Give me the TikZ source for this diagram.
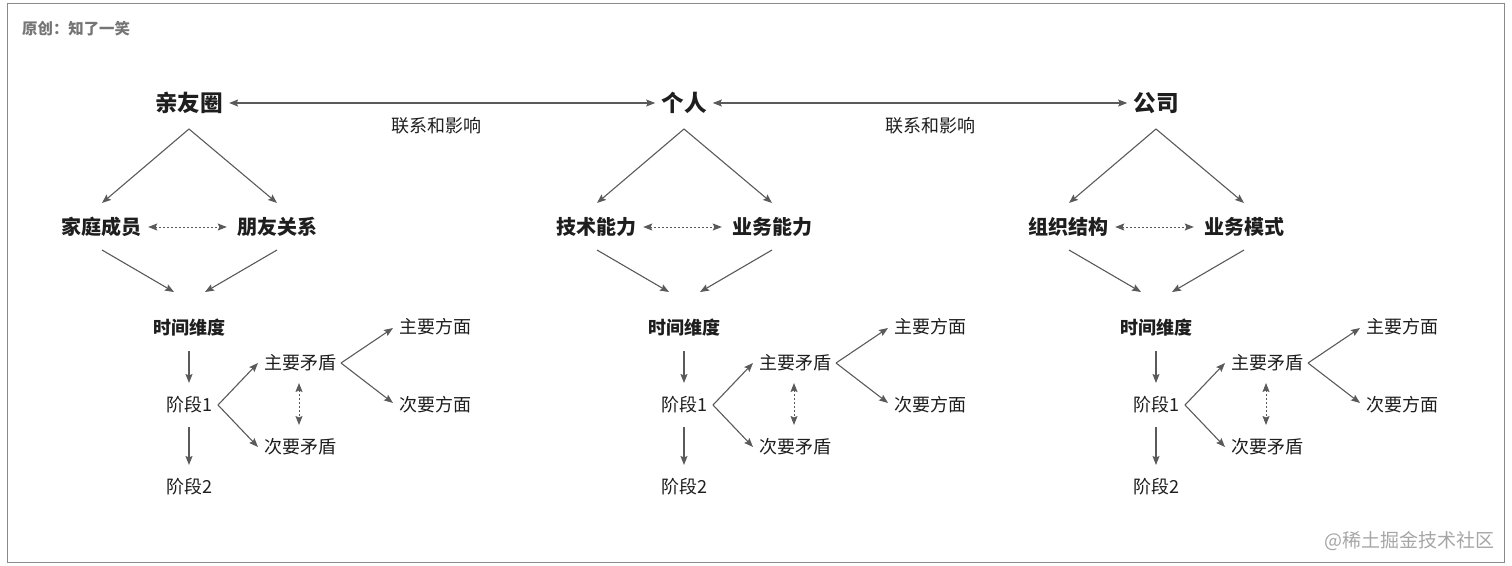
\documentclass[tikz,border=0pt]{standalone}
\usepackage{fontspec}
\setmainfont{Noto Sans CJK SC}
\usetikzlibrary{arrows.meta,calc}
\definecolor{ln}{HTML}{5A5A5A}
\definecolor{tx}{HTML}{1E1E1E}
\definecolor{frame}{HTML}{8A8A8A}
\begin{document}
\begin{tikzpicture}[x=1pt,y=-1pt,
  lbl/.style={inner sep=0pt, text=tx},
  big/.style={lbl,font=\fontsize{22.6}{24}\selectfont\bfseries},
  mid/.style={lbl,font=\fontsize{20}{22}\selectfont\bfseries},
  sm/.style={lbl,font=\fontsize{18}{20}\selectfont},
  smb/.style={lbl,font=\fontsize{18}{20}\selectfont\bfseries},
  tip/.tip={Stealth[length=9pt,width=7pt,inset=1.5pt]},
  arr/.style={draw=ln, line width=1.1pt, -tip},
  biarr/.style={draw=ln, line width=1.1pt, tip-tip},
  dotarr/.style={draw=ln, line width=1pt, dash pattern=on 2pt off 2pt, tip-tip}
]
\useasboundingbox (0,0) rectangle (1512,565);
\draw[frame, line width=1pt] (7,3) rectangle (1504,562);
\node[anchor=west, inner sep=0pt, text=frame!85!black, font=\fontsize{15.4}{17}\selectfont\bfseries] (orig) at (22,29) {原创：知了一笑};
\node[anchor=east, inner sep=0pt, text=black!35, font=\fontsize{19}{21}\selectfont] (wm) at (1495,541) {@稀土掘金技术社区};

\foreach \i/\dx/\P/\A/\B in {1/0/亲友圈/家庭成员/朋友关系, 2/495/个人/技术能力/业务能力, 3/967/公司/组织结构/业务模式}{
  \node[big] (p\i) at (189+\dx,103) {\P};
  \node[mid] (a\i) at (101+\dx,227) {\A};
  \node[mid] (b\i) at (277+\dx,227) {\B};
  \node[smb] (t\i) at (189+\dx,328) {时间维度};
  \node[sm] (s\i) at (189+\dx,405) {阶段1};
  \node[sm] (u\i) at (189+\dx,487) {阶段2};
  \node[sm] (m\i) at (300+\dx,363) {主要矛盾};
  \node[sm] (n\i) at (300+\dx,447) {次要矛盾};
  \node[sm] (f\i) at (435+\dx,327) {主要方面};
  \node[sm] (g\i) at (435+\dx,405) {次要方面};
  % top diverging
  \draw[arr] ($(p\i)+(0,26)$) -- ($(a\i)+(1,-24)$);
  \draw[arr] ($(p\i)+(0,26)$) -- ($(b\i)+(0,-24)$);
  % dotted between second level
  \draw[dotarr, shorten <=7pt, shorten >=10pt] (a\i) -- (b\i);
  % converging
  \draw[arr] ($(a\i)+(1,23)$) -- ($(t\i)+(-15,-36)$);
  \draw[arr] ($(b\i)+(0,23)$) -- ($(t\i)+(16,-36)$);
  % time axis
  \draw[arr] ($(t\i)+(0,23)$) -- ($(s\i)+(0,-22)$);
  \draw[arr] ($(s\i)+(0,22)$) -- ($(u\i)+(0,-22)$);
  % stage 1 branches
  \draw[arr] ($(s\i)+(29,0)$) -- ($(m\i)+(-42,0)$);
  \draw[arr] ($(s\i)+(29,0)$) -- ($(n\i)+(-42,0)$);
  \draw[dotarr] ($(m\i)+(-1,20)$) -- ($(n\i)+(-1,-22)$);
  % main contradiction branches
  \draw[arr] ($(m\i)+(41,0)$) -- ($(f\i)+(-42,1)$);
  \draw[arr] ($(m\i)+(41,0)$) -- ($(g\i)+(-42,-2)$);
}
\draw[biarr, shorten <=6pt, shorten >=6pt] (p1) -- (p2);
\draw[biarr, shorten <=6pt, shorten >=6pt] (p2) -- (p3);
\node[sm] (l1) at (436,126) {联系和影响};
\node[sm] (l2) at (930,126) {联系和影响};
\end{tikzpicture}
\end{document}
